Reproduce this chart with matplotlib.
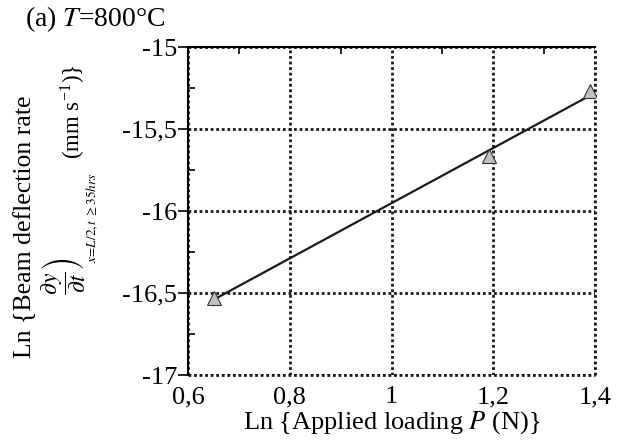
import matplotlib
matplotlib.use("Agg")
import matplotlib.pyplot as plt
import numpy as np
from matplotlib.ticker import FuncFormatter, MultipleLocator

# data
ln_load = [0.651, 1.192, 1.390]
ln_rate = [-16.53, -15.665, -15.27]

x_ticks = [0.6, 0.8, 1.0, 1.2, 1.4]
y_ticks = [-17, -16.5, -16, -15.5, -15]

plt.rcParams["font.family"] = "Liberation Serif"
plt.rcParams["mathtext.fontset"] = "stix"
plt.rcParams["axes.unicode_minus"] = False

fig = plt.figure(figsize=(6.28, 4.48), dpi=100)
ax = fig.add_axes([188 / 628, 1 - 375 / 448, 407 / 628, 328 / 448])

# least-squares line through the points
slope, icpt = np.polyfit(ln_load, ln_rate, 1)
xx = np.array([min(ln_load), max(ln_load)])
ax.plot(xx, slope * xx + icpt, color="#1a1a1a", lw=1.6, zorder=3)
ax.plot(ln_load, ln_rate, ls="none", marker="^", ms=10,
        mfc="#c0c0c0", mec="#333333", mew=0.8, zorder=4)

ax.set_xlim(0.6, 1.4)
ax.set_ylim(-17, -15)
ax.set_xticks(x_ticks)
ax.set_yticks(y_ticks)


def comma(v, pos):
    s = f"{v:g}"
    return s.replace(".", ",")


ax.xaxis.set_major_formatter(FuncFormatter(comma))
ax.yaxis.set_major_formatter(FuncFormatter(comma))
ax.yaxis.set_minor_locator(MultipleLocator(0.25))
ax.xaxis.set_minor_locator(MultipleLocator(0.1))

dots = (0, (1.0, 1.0))
ax.grid(True, which="major", color="#1a1a1a", ls=dots, lw=2)
ax.axhline(-17, color="#1a1a1a", ls=dots, lw=2, clip_on=False)
ax.axvline(1.4, color="#1a1a1a", ls=dots, lw=2, clip_on=False)

ax.spines["right"].set_visible(False)
ax.spines["bottom"].set_visible(False)
ax.spines["left"].set_linewidth(1.5)
ax.spines["top"].set_linewidth(1.5)

ax.tick_params(axis="y", which="major", direction="out", length=7, width=1.2,
               labelsize=19, pad=1)
ax.tick_params(axis="y", which="minor", direction="in", length=5, width=1.2)
ax.tick_params(axis="x", which="major", length=0, labelsize=19, pad=8)
ax.tick_params(axis="x", which="minor", direction="in", length=5, width=1.2,
               bottom=False, top=True)

ax.set_xlabel(r"Ln {Applied loading $P$ (N)}", fontsize=19, labelpad=1)

# y label, in pieces (pixel centres)
def ytext(x, y, s, size):
    fig.text(x / 628, 1 - y / 448, s, rotation=90, ha="center", va="center",
             fontsize=size)


ytext(25, 227, "Ln {Beam deflection rate", 18.5)
ytext(64, 276, r"$\left.\dfrac{\partial y}{\partial t}\right)$", 17)
ytext(92, 218, r"$x\!=\!L/2,t\ \geq 35hrs$", 9.5)
ytext(73, 112, r"(mm s$^{\mathregular{-1}}$)}", 16.5)

fig.text(25 / 628, 1 - 19 / 448, r"(a) $T$=800°C", ha="left", va="center",
         fontsize=20)

fig.savefig("out.png", dpi=100)
